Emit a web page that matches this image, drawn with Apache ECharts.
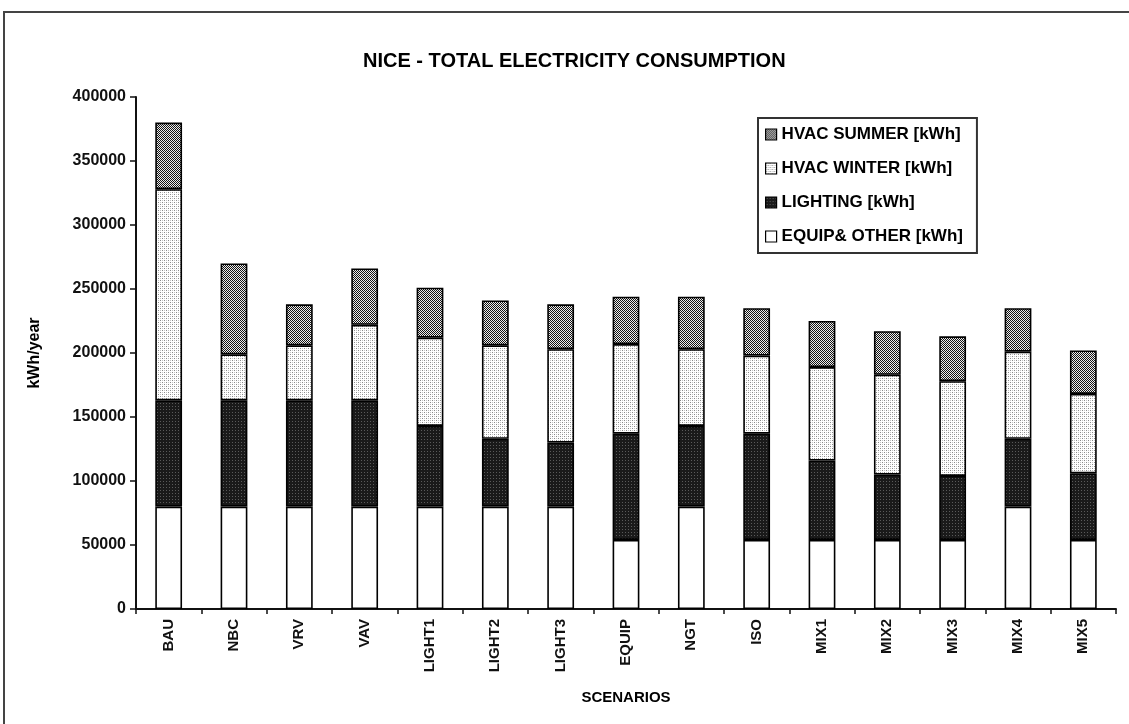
<!DOCTYPE html>
<html>
<head>
<meta charset="utf-8">
<script src="https://cdn.jsdelivr.net/npm/echarts@6/dist/echarts.min.js"></script>
<style>
  html, body { margin: 0; padding: 0; background: #fff; }
  #chart { width: 1129px; height: 724px; }
</style>
</head>
<body>
<div id="chart"></div>
<script>
// Scenarios on the x axis
const scenarios = ['BAU', 'NBC', 'VRV', 'VAV', 'LIGHT1', 'LIGHT2', 'LIGHT3', 'EQUIP',
                   'NGT', 'ISO', 'MIX1', 'MIX2', 'MIX3', 'MIX4', 'MIX5'];

// Yearly consumption per end use, kWh
const equipOther = [80000, 80000, 80000, 80000, 80000, 80000, 80000, 54000,
                    80000, 54000, 54000, 54000, 54000, 80000, 54000];
const lighting   = [83000, 83000, 83000, 83000, 63000, 53000, 50000, 83000,
                    63000, 83000, 62000, 51000, 50000, 53000, 52000];
const hvacWinter = [165000, 36000, 43000, 59000, 69000, 73000, 73000, 70000,
                    60000, 61000, 73000, 78000, 74000, 68000, 62000];
const hvacSummer = [52000, 71000, 32000, 44000, 39000, 35000, 35000, 37000,
                    41000, 37000, 36000, 34000, 35000, 34000, 34000];

// Legend / series names
const seriesNames = {
  summer: 'HVAC SUMMER [kWh]',
  winter: 'HVAC WINTER [kWh]',
  lighting: 'LIGHTING [kWh]',
  equip: 'EQUIP& OTHER [kWh]'
};

// Y axis range
const yMin = 0, yMax = 400000, yStep = 50000;

// Small repeating fill textures for the hatched bars
function pattern(size, draw) {
  const c = document.createElement('canvas');
  c.width = size; c.height = size;
  const ctx = c.getContext('2d');
  draw(ctx);
  return { image: c, repeat: 'repeat' };
}
const summerFill = pattern(2, ctx => {
  ctx.fillStyle = '#ececec'; ctx.fillRect(0, 0, 2, 2);
  ctx.fillStyle = '#141414'; ctx.fillRect(0, 0, 1, 1); ctx.fillRect(1, 1, 1, 1);
});
const winterFill = pattern(4, ctx => {
  ctx.fillStyle = '#ffffff'; ctx.fillRect(0, 0, 4, 4);
  ctx.fillStyle = '#8a8a8a'; ctx.fillRect(0, 0, 1, 1); ctx.fillRect(2, 2, 1, 1);
  ctx.fillStyle = '#c4c4c4'; ctx.fillRect(2, 0, 1, 1); ctx.fillRect(0, 2, 1, 1);
});
const lightingFill = pattern(3, ctx => {
  ctx.fillStyle = '#1a1a1a'; ctx.fillRect(0, 0, 3, 3);
  ctx.fillStyle = '#5a5a5a'; ctx.fillRect(1, 1, 1, 1);
});

const font = 'Liberation Sans, Arial, sans-serif';

const chart = echarts.init(document.getElementById('chart'), null, { renderer: 'canvas' });

function barSeries(name, data, fill) {
  return {
    name: name,
    type: 'bar',
    stack: 'total',
    barWidth: '41%',
    data: data,
    itemStyle: { color: fill, borderColor: '#000', borderWidth: 1.6 },
    emphasis: { disabled: true }
  };
}

chart.setOption({
  animation: false,
  backgroundColor: '#fff',
  textStyle: { fontFamily: font },
  title: {
    text: 'NICE - TOTAL ELECTRICITY CONSUMPTION',
    left: 358,
    top: 46,
    textStyle: { fontFamily: font, fontSize: 20, fontWeight: 'bold', color: '#000' }
  },
  graphic: [{
    type: 'rect',
    shape: { x: 4, y: 12, width: 1200, height: 800 },
    style: { fill: 'none', stroke: '#444', lineWidth: 2 },
    silent: true
  }],
  legend: {
    orient: 'vertical',
    left: 758,
    top: 118,
    padding: [8, 14, 8, 7],
    itemGap: 17,
    itemWidth: 11,
    itemHeight: 11,
    icon: 'rect',
    borderColor: '#333',
    borderWidth: 2,
    backgroundColor: '#fff',
    data: [seriesNames.summer, seriesNames.winter, seriesNames.lighting, seriesNames.equip],
    itemStyle: { borderColor: '#000', borderWidth: 1.2 },
    textStyle: { fontFamily: font, fontSize: 17, fontWeight: 'bold', color: '#000' }
  },
  grid: { left: 136, right: 13, top: 97, bottom: 115 },
  xAxis: {
    type: 'category',
    data: scenarios,
    name: 'SCENARIOS',
    nameLocation: 'middle',
    nameGap: 81,
    nameTextStyle: { fontFamily: font, fontSize: 15, fontWeight: 'bold', color: '#000' },
    axisLine: { lineStyle: { color: '#111', width: 2 } },
    axisTick: { show: true, length: 5, lineStyle: { color: '#111', width: 1.5 } },
    axisLabel: { rotate: 90, interval: 0, margin: 10, fontFamily: font, fontSize: 15, fontWeight: 'bold', color: '#111' },
    splitLine: { show: false }
  },
  yAxis: {
    type: 'value',
    min: yMin,
    max: yMax,
    interval: yStep,
    name: 'kWh/year',
    nameLocation: 'middle',
    nameRotate: 90,
    nameGap: 93,
    nameTextStyle: { fontFamily: font, fontSize: 16, fontWeight: 'bold', color: '#000' },
    axisLine: { show: true, lineStyle: { color: '#111', width: 2 } },
    axisTick: { show: true, length: 6, lineStyle: { color: '#111', width: 1.5 } },
    axisLabel: {
      margin: 10, fontFamily: font, fontSize: 16, fontWeight: 'bold', color: '#111',
      formatter: v => String(v)
    },
    splitLine: { show: false }
  },
  series: [
    barSeries(seriesNames.equip, equipOther, '#ffffff'),
    barSeries(seriesNames.lighting, lighting, lightingFill),
    barSeries(seriesNames.winter, hvacWinter, winterFill),
    barSeries(seriesNames.summer, hvacSummer, summerFill)
  ]
});
</script>
</body>
</html>
